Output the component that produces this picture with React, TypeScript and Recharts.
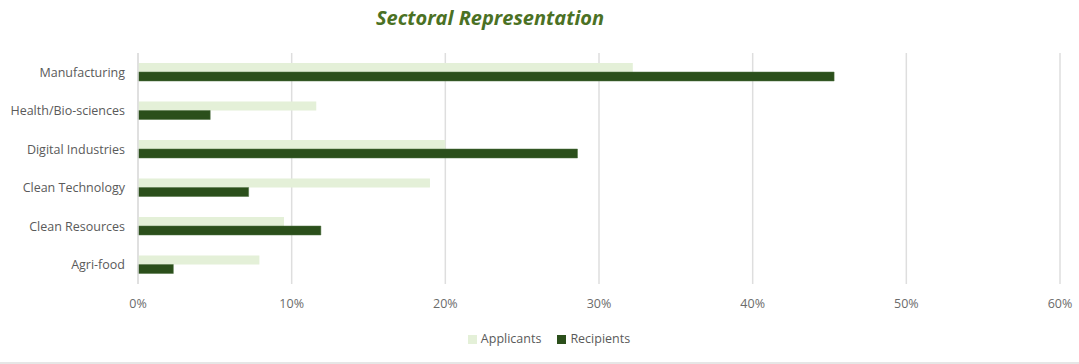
import { Bar, BarChart, CartesianGrid, Legend, XAxis, YAxis } from 'recharts';

const sectors = [
  'Manufacturing',
  'Health/Bio-sciences',
  'Digital Industries',
  'Clean Technology',
  'Clean Resources',
  'Agri-food',
];
const applicants = [0.322, 0.116, 0.2, 0.19, 0.095, 0.079];
const recipients = [0.453, 0.047, 0.286, 0.072, 0.119, 0.023];
const xTicks = [0, 0.1, 0.2, 0.3, 0.4, 0.5, 0.6];

const data = sectors.map((s, i) => ({
  sector: s,
  applicants: applicants[i],
  recipients: recipients[i],
}));

const font = '"Open Sans", sans-serif';

export default function App() {
  return (
    <div
      style={{
        position: 'fixed',
        left: 0,
        top: 0,
        width: 1079,
        height: 364,
        background: '#fff',
        fontFamily: font,
      }}
    >
      <div
        style={{
          position: 'absolute',
          top: 4,
          left: 0,
          width: 980,
          textAlign: 'center',
          fontSize: 20,
          fontWeight: 700,
          fontStyle: 'italic',
          color: '#4b7124',
        }}
      >
        Sectoral Representation
      </div>
      <BarChart
        width={1079}
        height={363}
        data={data}
        layout="vertical"
        margin={{ top: 53, right: 19, bottom: 32, left: 0 }}
        barGap={0}
      >
        <CartesianGrid horizontal={false} stroke="#dedede" strokeWidth={1.5} />
        <XAxis
          type="number"
          domain={[0, 0.6]}
          ticks={xTicks}
          tickFormatter={(v: number) => `${Math.round(v * 100)}%`}
          axisLine={false}
          tickLine={false}
          tickMargin={9}
          tick={{ fill: '#6b6b6b', fontSize: 12.5, fontFamily: font }}
        />
        <YAxis
          type="category"
          dataKey="sector"
          width={138}
          axisLine={{ stroke: '#dedede', strokeWidth: 1.5 }}
          tickLine={false}
          tickMargin={7}
          tick={{ fill: '#5a5a5a', fontSize: 12.5, fontFamily: font }}
        />
        <Legend
          verticalAlign="bottom"
          align="center"
          iconType="square"
          iconSize={9}
          wrapperStyle={{ bottom: 16, left: 27, fontSize: 12.5, fontFamily: font }}
          formatter={(value: string) => (
            <span style={{ color: '#5a5a5a', marginRight: 6 }}>{value}</span>
          )}
        />
        <Bar
          dataKey="applicants"
          name="Applicants"
          fill="#e4f0d8"
          barSize={9}
          isAnimationActive={false}
        />
        <Bar
          dataKey="recipients"
          name="Recipients"
          fill="#2b4f1b"
          stroke="#4e7040"
          strokeWidth={0.5}
          barSize={9}
          isAnimationActive={false}
        />
      </BarChart>
      <div
        style={{
          position: 'absolute',
          left: 0,
          top: 362,
          width: 1079,
          height: 2,
          background: '#e6e6e6',
        }}
      />
    </div>
  );
}
